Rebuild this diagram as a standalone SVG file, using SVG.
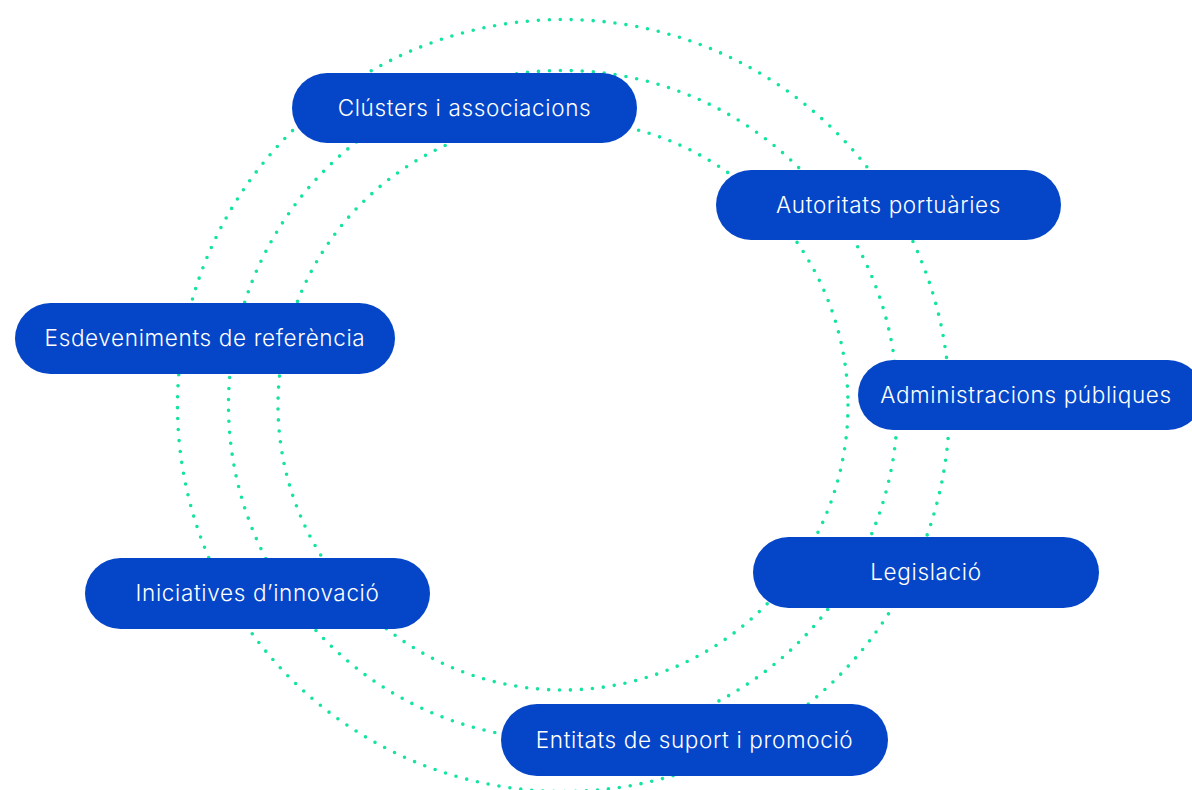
<svg xmlns="http://www.w3.org/2000/svg" width="1192" height="790" viewBox="0 0 1192 790">
<style>
.ring{fill:none;stroke:#14E3A1;stroke-width:3.6;stroke-linecap:round;stroke-dasharray:0 11}
.node rect{fill:#0546C8}
.node text{fill:#FFFFFF;font-family:Inter,"Liberation Sans",sans-serif;font-size:22.5px;font-weight:300;letter-spacing:0.65px;text-anchor:middle}
</style>
<rect width="1192" height="790" fill="#FFFFFF"/>
<g id="connectors">
<circle class="ring" cx="563.5" cy="405.5" r="386"/>
<circle class="ring" cx="563" cy="405" r="334.5"/>
<circle class="ring" cx="563" cy="405" r="285"/>
</g>
<g id="n-clusters" class="node"><rect x="292" y="73" width="345" height="70" rx="35"/><text x="464.5" y="116">Clústers i associacions</text></g>
<g id="n-autoritats" class="node"><rect x="716" y="170" width="345" height="70" rx="35"/><text x="888.5" y="213">Autoritats portuàries</text></g>
<g id="n-administracions" class="node"><rect x="858" y="360" width="345" height="70" rx="35"/><text x="1026" y="403">Administracions públiques</text></g>
<g id="n-esdeveniments" class="node"><rect x="15" y="303" width="380" height="71" rx="35.5"/><text x="205" y="346">Esdeveniments de referència</text></g>
<g id="n-iniciatives" class="node"><rect x="85" y="558" width="345" height="71" rx="35.5"/><text x="257.5" y="601">Iniciatives d’innovació</text></g>
<g id="n-legislacio" class="node"><rect x="753" y="537" width="346" height="71" rx="35.5"/><text x="926" y="580">Legislació</text></g>
<g id="n-entitats" class="node"><rect x="501" y="704" width="387" height="72" rx="36"/><text x="694.5" y="748">Entitats de suport i promoció</text></g>
</svg>
